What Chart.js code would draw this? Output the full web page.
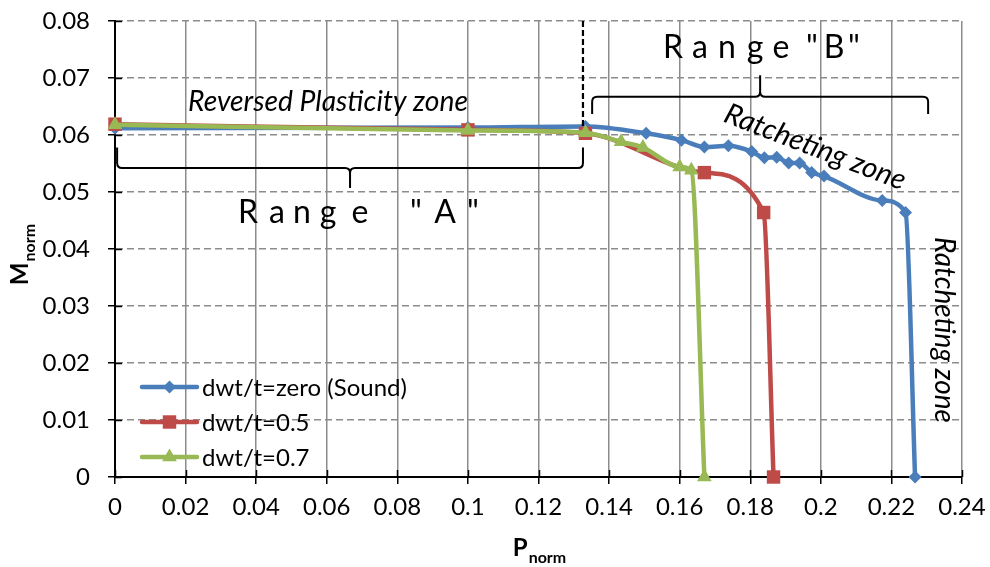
<!DOCTYPE html>
<html><head><meta charset="utf-8">
<script src="https://cdn.jsdelivr.net/npm/chart.js@4/dist/chart.umd.min.js"></script>
<style>html,body{margin:0;padding:0;background:#fff}</style>
</head><body>
<canvas id="c" width="990" height="567"></canvas>
<script>
// ---- data ----
const seriesNames = ['dwt/t=zero (Sound)', 'dwt/t=0.5', 'dwt/t=0.7'];
const blueX = [0, 0.1, 0.1333, 0.1505, 0.1605, 0.167, 0.1738, 0.1804, 0.184, 0.1875, 0.1909, 0.194, 0.1974, 0.2009, 0.2174, 0.224, 0.2267];
const blueY = [0.0612, 0.0613, 0.0615, 0.0603, 0.0591, 0.0579, 0.0581, 0.0571, 0.0560, 0.0561, 0.0551, 0.0551, 0.0534, 0.0528, 0.0485, 0.0464, 0];
const redX = [0, 0.1, 0.1333, 0.167, 0.1838, 0.1866];
const redY = [0.0619, 0.0609, 0.0603, 0.0534, 0.0464, 0];
const greenX = [0, 0.1, 0.1333, 0.1434, 0.1496, 0.16, 0.1633, 0.167];
const greenY = [0.0618, 0.0608, 0.0604, 0.0588, 0.0578, 0.0544, 0.0538, 0];
const xTickLabels = ['0','0.02','0.04','0.06','0.08','0.1','0.12','0.14','0.16','0.18','0.2','0.22','0.24'];
const yTickLabels = ['0','0.01','0.02','0.03','0.04','0.05','0.06','0.07','0.08'];

const colors = ['#4a7ebb', '#be4b48', '#98b954'];
const shapes = ['rectRot', 'rect', 'triangle'];
const radii = [6.5, 9.5, 8.5];

function pts(xs, ys) { return xs.map((x, i) => ({x: x, y: ys[i]})); }
const seriesData = [pts(blueX, blueY), pts(redX, redY), pts(greenX, greenY)];

const FONT = 'Lato, "Open Sans", sans-serif';

const datasets = seriesData.map((d, i) => ({
  label: seriesNames[i],
  data: d,
  borderColor: colors[i],
  backgroundColor: colors[i],
  borderWidth: 4.5,
  pointStyle: shapes[i],
  pointRadius: radii[i],
  pointBorderWidth: 0,
  pointBackgroundColor: colors[i],
  cubicInterpolationMode: 'monotone',
  clip: false,
  order: 3 - i
}));

function drawBrace(ctx, x1, x2, yEnd, yMid, xTip, yTip, r) {
  const s = Math.sign(yTip - yMid);
  ctx.beginPath();
  ctx.moveTo(x1, yEnd);
  ctx.lineTo(x1, yMid - s * r);
  ctx.quadraticCurveTo(x1, yMid, x1 + r, yMid);
  ctx.lineTo(xTip - r, yMid);
  ctx.quadraticCurveTo(xTip, yMid, xTip, yMid + s * r);
  ctx.lineTo(xTip, yTip);
  ctx.moveTo(xTip, yMid + s * r);
  ctx.quadraticCurveTo(xTip, yMid, xTip + r, yMid);
  ctx.lineTo(x2 - r, yMid);
  ctx.quadraticCurveTo(x2, yMid, x2, yMid - s * r);
  ctx.lineTo(x2, yEnd);
  ctx.stroke();
}

function fitFont(ctx, text, style, targetW) {
  ctx.font = style + ' 20px ' + FONT;
  const w = ctx.measureText(text).width;
  const size = 20 * targetW / w;
  ctx.font = style + ' ' + size.toFixed(2) + 'px ' + FONT;
}

const annot = {
  id: 'annot',
  afterDraw(chart) {
    const ctx = chart.ctx;
    const xs = chart.scales.x, ys = chart.scales.y;
    const X = v => xs.getPixelForValue(v), Y = v => ys.getPixelForValue(v);
    const area = chart.chartArea;
    ctx.save();
    // inner halves of the crossing tick marks
    ctx.strokeStyle = '#000'; ctx.lineWidth = 1.5;
    ctx.beginPath();
    xs.ticks.forEach(t => { const p = Math.round(X(t.value)) + 0.5; ctx.moveTo(p, area.bottom); ctx.lineTo(p, area.bottom - 7); });
    ys.ticks.forEach(t => { const p = Math.round(Y(t.value)) + 0.5; ctx.moveTo(area.left, p); ctx.lineTo(area.left + 7, p); });
    ctx.stroke();

    // dashed vertical separator
    ctx.strokeStyle = '#000'; ctx.lineWidth = 2.2;
    ctx.setLineDash([6, 3]);
    ctx.beginPath(); ctx.moveTo(X(0.1326), Y(0.08)); ctx.lineTo(X(0.1326), Y(0.0614)); ctx.stroke();
    ctx.setLineDash([]);

    // braces
    ctx.lineWidth = 2; ctx.strokeStyle = '#000';
    drawBrace(ctx, X(0.0006), X(0.1326), Y(0.0578), Y(0.0542), X(0.0666), Y(0.0507), 5);
    drawBrace(ctx, X(0.1352), X(0.2304), Y(0.0637), Y(0.0667), X(0.1828), Y(0.0705), 5);

    ctx.fillStyle = '#000';
    // Reversed Plasticity zone
    fitFont(ctx, 'Reversed Plasticity zone', 'italic', 280);
    ctx.textAlign = 'center'; ctx.textBaseline = 'alphabetic';
    ctx.fillText('Reversed Plasticity zone', X(0.06035), Y(0.0642));

    // Range texts (spaced letters)
    ctx.font = '32px ' + FONT;
    const rangeA = 'Range"A"', offA = [-112.5, -83.5, -58.5, -32.5, -0.5, 55.5, 84.5, 112.5];
    const rangeB = 'Range"B"', offB = [-90.5, -63.5, -36.5, -8.5, 17.5, 48.5, 70.5, 90.5];
    const ax = X(0.06956), ay = Y(0.04456), bx = X(0.18376), by = Y(0.07351);
    for (let i = 0; i < rangeA.length; i++) ctx.fillText(rangeA[i], ax + offA[i], ay);
    for (let i = 0; i < rangeB.length; i++) ctx.fillText(rangeB[i], bx + offB[i], by);

    // Ratcheting zone (diagonal)
    ctx.textBaseline = 'middle';
    fitFont(ctx, 'Ratcheting zone', 'italic', 192);
    ctx.save(); ctx.translate(X(0.19837), Y(0.05789)); ctx.rotate(21 * Math.PI / 180);
    ctx.fillText('Ratcheting zone', 0, 0); ctx.restore();
    // Ratcheting zone (vertical)
    fitFont(ctx, 'Ratcheting zone', 'italic', 186);
    ctx.save(); ctx.translate(X(0.2349), Y(0.02579)); ctx.rotate(Math.PI / 2);
    ctx.fillText('Ratcheting zone', 0, 0); ctx.restore();

    // legend
    const rows = [0.01579, 0.00965, 0.00351];
    ctx.font = '24px ' + FONT; ctx.textAlign = 'left'; ctx.textBaseline = 'middle';
    rows.forEach((rv, i) => {
      const y = Y(rv), x1 = X(0.00765), x2 = X(0.02324);
      ctx.strokeStyle = colors[i]; ctx.lineWidth = 4.5; ctx.lineCap = 'round';
      ctx.beginPath(); ctx.moveTo(x1, y); ctx.lineTo(x2, y); ctx.stroke();
      ctx.fillStyle = colors[i];
      Chart.helpers.drawPoint(ctx, {pointStyle: shapes[i], radius: radii[i], borderWidth: 0}, (x1 + x2) / 2, y);
      ctx.fillStyle = '#000';
      ctx.fillText(seriesNames[i], X(0.02465), y + 1);
    });

    // axis titles
    ctx.fillStyle = '#000'; ctx.textBaseline = 'alphabetic'; ctx.textAlign = 'left';
    ctx.font = 'bold 24px ' + FONT;
    const pw = ctx.measureText('P').width;
    ctx.font = 'bold 16px ' + FONT;
    const nw = ctx.measureText('norm').width;
    const px0 = 539 - (pw + nw) / 2;
    ctx.font = 'bold 24px ' + FONT; ctx.fillText('P', px0, 556);
    ctx.font = 'bold 16px ' + FONT; ctx.fillText('norm', px0 + pw + 1, 563);
    ctx.save(); ctx.translate(28, 255); ctx.rotate(-Math.PI / 2);
    ctx.font = 'bold 24px ' + FONT;
    const mw = ctx.measureText('M').width;
    const my0 = -(mw + nw) / 2;
    ctx.fillText('M', my0, 0);
    ctx.font = 'bold 16px ' + FONT; ctx.fillText('norm', my0 + mw + 1, 7);
    ctx.restore();
    ctx.restore();
  }
};

new Chart(document.getElementById('c'), {
  type: 'line',
  data: { datasets: datasets },
  options: {
    responsive: false,
    animation: false,
    devicePixelRatio: 1,
    layout: { padding: { top: 21, right: 28, left: 0, bottom: 0 } },
    plugins: { legend: { display: false }, tooltip: { enabled: false } },
    scales: {
      x: {
        type: 'linear', min: 0, max: 0.24,
        afterFit: s => { s.height = 90; s.paddingLeft = 0; s.paddingRight = 0; },
        ticks: { stepSize: 0.02, color: '#000', padding: 9, maxRotation: 0,
          font: { family: FONT, size: 24 },
          callback: (v) => xTickLabels[Math.round(v / 0.02)] },
        grid: { color: '#8c8c8c', lineWidth: 1.5, tickColor: '#000', tickLength: 7, tickWidth: 1.5 },
        border: { display: true, color: '#000', width: 2 }
      },
      y: {
        min: 0, max: 0.08,
        afterFit: s => { s.width = 115; s.paddingTop = 0; s.paddingBottom = 0; },
        ticks: { stepSize: 0.01, color: '#000', padding: 18,
          font: { family: FONT, size: 24 },
          callback: (v) => yTickLabels[Math.round(v / 0.01)] },
        grid: { color: '#8c8c8c', lineWidth: 1.5, tickColor: '#000', tickLength: 7, tickWidth: 1.5 },
        border: { display: true, color: '#000', width: 2, dash: [7, 4] }
      }
    }
  },
  plugins: [annot]
});
</script>
</body></html>
